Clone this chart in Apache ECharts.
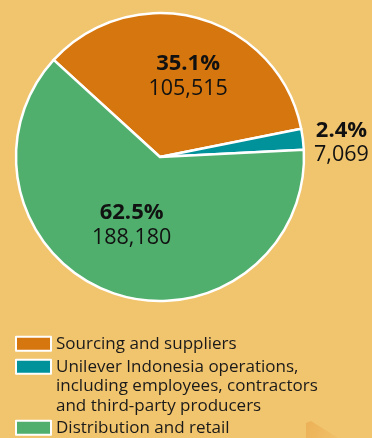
<!DOCTYPE html>
<html>
<head>
<meta charset="utf-8">
<script src="https://cdn.jsdelivr.net/npm/echarts@6/dist/echarts.min.js"></script>
<style>
  html, body { margin: 0; padding: 0; background: #F1C46E; }
  #chart { width: 372px; height: 438px; }
</style>
</head>
<body>
<div id="chart"></div>
<script>
// Value distribution by stakeholder group
const categories = [
  'Sourcing and suppliers',
  'Unilever Indonesia operations,\nincluding employees, contractors\nand third-party producers',
  'Distribution and retail'
];
const values = [105515, 7069, 188180];
const percentLabels = ['35.1%', '2.4%', '62.5%'];

const colors = ['#D5760F', '#00929B', '#51AF6E'];
// nudges for each slice label, in pixels
const labelShift = [[8, -8.5], [107, -5], [-3, -2]];
const FONT = '"Open Sans", "Noto Sans", sans-serif';

const chart = echarts.init(document.getElementById('chart'));

const legendBase = {
  orient: 'vertical',
  left: 15,
  padding: 0,
  itemWidth: 35,
  itemHeight: 14,
  icon: 'rect',
  selectedMode: false,
  textStyle: { fontFamily: FONT, fontSize: 17, lineHeight: 19.5, color: '#1a1a1a' }
};

chart.setOption({
  backgroundColor: '#F1C46E',
  animation: false,
  graphic: [{
    type: 'polygon',
    silent: true,
    z: -1,
    shape: { points: [[306, 423], [311, 421], [338, 438], [306, 438]] },
    style: {
      fill: {
        type: 'linear', x: 0, y: 0, x2: 1, y2: 1,
        colorStops: [{ offset: 0, color: '#ECB158' }, { offset: 1, color: '#F0C068' }]
      }
    }
  }],
  legend: [
    Object.assign({}, legendBase, { top: 334, data: [categories[0]] }),
    Object.assign({}, legendBase, {
      top: 318,
      data: [categories[1]],
      // two empty leading lines keep the swatch level with the first text line
      formatter: name => '\n\n' + name
    }),
    Object.assign({}, legendBase, { top: 418, data: [categories[2]] })
  ],
  series: [{
    type: 'pie',
    center: [160, 157],
    radius: 144,
    startAngle: 137.6,
    clockwise: true,
    avoidLabelOverlap: false,
    itemStyle: { borderColor: '#ffffff', borderWidth: 2.5 },
    emphasis: { disabled: true },
    label: {
      show: true,
      position: 'inside',
      formatter: p => '{p|' + percentLabels[p.dataIndex] + '}\n{v|' + values[p.dataIndex].toLocaleString('en-US') + '}',
      rich: {
        p: { fontFamily: FONT, fontSize: 22, fontWeight: 'bold', lineHeight: 25, color: '#111111' },
        v: { fontFamily: FONT, fontSize: 21.5, lineHeight: 25, color: '#111111' }
      }
    },
    labelLine: { show: false },
    labelLayout: params => ({ dx: labelShift[params.dataIndex][0], dy: labelShift[params.dataIndex][1] }),
    data: categories.map((name, i) => ({ name, value: values[i], itemStyle: { color: colors[i] } }))
  }]
});
</script>
</body>
</html>
